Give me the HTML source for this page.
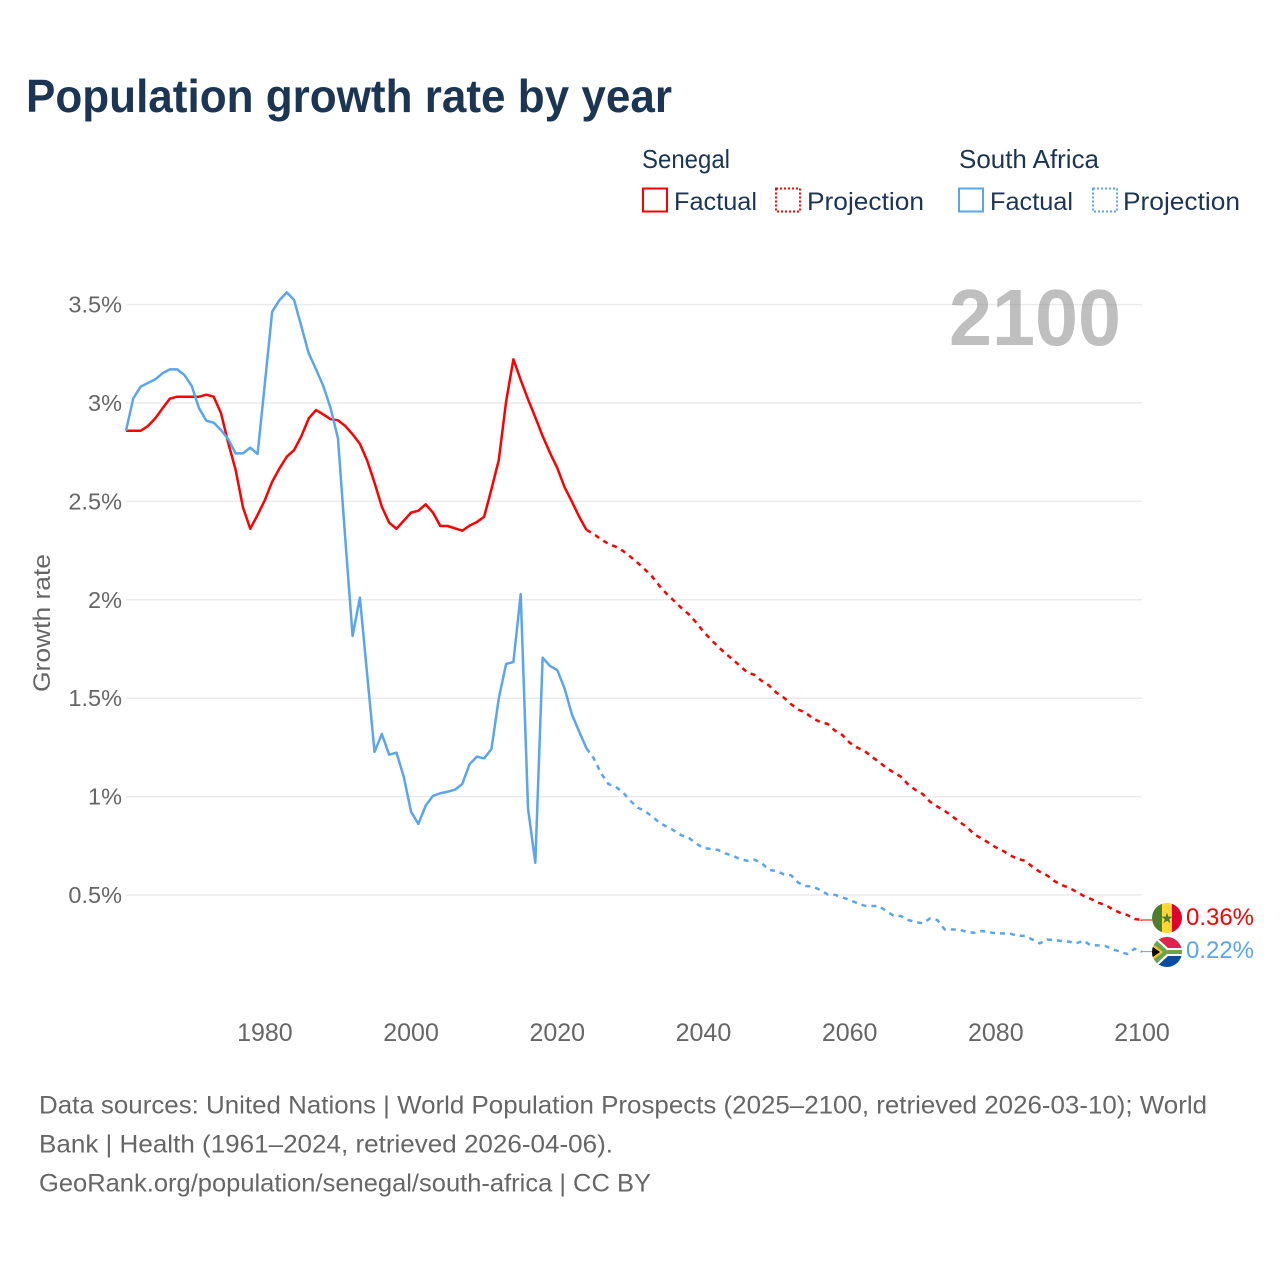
<!DOCTYPE html>
<html lang="en">
<head>
<meta charset="utf-8">
<title>Population growth rate by year</title>
<style>
html,body{margin:0;padding:0;background:#fff;}
svg{display:block;font-family:"Liberation Sans",sans-serif;}
</style>
</head>
<body>
<svg id="chart" xmlns="http://www.w3.org/2000/svg" width="1280" height="1280" viewBox="0 0 1280 1280">
  <defs>
    <clipPath id="clip-sn"><circle cx="1167" cy="918" r="15"/></clipPath>
    <clipPath id="clip-za"><circle cx="1167" cy="952" r="15"/></clipPath>
  </defs>
  <rect width="1280" height="1280" fill="#fff"/>
  <text x="26" y="112" font-size="46" font-weight="700" fill="#1b3553" textLength="646" lengthAdjust="spacingAndGlyphs">Population growth rate by year</text>

  <g fill="#1b3553" font-size="25">
    <text x="642" y="168" font-size="26" textLength="88" lengthAdjust="spacingAndGlyphs">Senegal</text>
    <text x="959" y="168" font-size="26" textLength="140" lengthAdjust="spacingAndGlyphs">South Africa</text>
    <g>
      <rect x="643" y="188.500" width="24" height="23" fill="none" stroke="#ff0000" stroke-width="2"/>
      <text x="674" y="210" textLength="83" lengthAdjust="spacingAndGlyphs">Factual</text>
    </g>
    <g>
      <rect x="776" y="188.500" width="24" height="23" fill="none" stroke="#ff0000" stroke-width="2" stroke-dasharray="2 2"/>
      <text x="807" y="210" textLength="117" lengthAdjust="spacingAndGlyphs">Projection</text>
    </g>
    <g>
      <rect x="959" y="188.500" width="24" height="23" fill="none" stroke="#5aa5ee" stroke-width="2"/>
      <text x="990" y="210" textLength="83" lengthAdjust="spacingAndGlyphs">Factual</text>
    </g>
    <g>
      <rect x="1093" y="188.500" width="24" height="23" fill="none" stroke="#5aa5ee" stroke-width="2" stroke-dasharray="2 2"/>
      <text x="1123" y="210" textLength="117" lengthAdjust="spacingAndGlyphs">Projection</text>
    </g>
  </g>

  <text transform="translate(50,623) rotate(-90)" text-anchor="middle" font-size="24" fill="#666" textLength="138" lengthAdjust="spacingAndGlyphs">Growth rate</text>

  <g id="grid"></g>
  <g id="yticks"></g>
  <g id="xticks"></g>

  <text x="949" y="345" font-size="80" font-weight="700" fill="#808080" fill-opacity="0.5" textLength="172" lengthAdjust="spacingAndGlyphs">2100</text>

  <g id="series"></g>

  <g clip-path="url(#clip-sn)">
    <rect x="1152" y="903" width="10" height="30" fill="#4f7d2e"/>
    <rect x="1162" y="903" width="10" height="30" fill="#fdd835"/>
    <rect x="1172" y="903" width="10" height="30" fill="#e0002d"/>
    <polygon points="1167,912.500 1168.400,916.600 1172.700,916.600 1169.200,919.200 1170.500,923.300 1167,920.800 1163.500,923.300 1164.800,919.200 1161.300,916.600 1165.600,916.600" fill="#4f7d2e"/>
  </g>
  <g clip-path="url(#clip-za)">
    <rect x="1152" y="937" width="30" height="15" fill="#e0234a"/>
    <rect x="1152" y="952" width="30" height="15" fill="#0a4da2"/>
    <polygon points="1150,937 1156,937 1168,948 1182,948 1182,956 1168,956 1156,967 1150,967" fill="#fff"/>
    <polygon points="1150,939 1153,937 1167,950 1182,950 1182,954 1167,954 1153,967 1150,965" fill="#6da34d"/>
    <polygon points="1150,942 1163,952 1150,962" fill="#fdc62f"/>
    <polygon points="1150,945 1160,952 1150,959" fill="#000"/>
  </g>

  <text x="1186" y="925" font-size="24" fill="#ff0000" textLength="68" lengthAdjust="spacingAndGlyphs">0.36%</text>
  <text x="1186" y="958" font-size="24" fill="#5aa5ee" textLength="68" lengthAdjust="spacingAndGlyphs">0.22%</text>

  <g font-size="25" fill="#666">
    <text x="39" y="1113.500" textLength="1168" lengthAdjust="spacingAndGlyphs">Data sources: United Nations | World Population Prospects (2025–2100, retrieved 2026-03-10); World</text>
    <text x="39" y="1152.500" textLength="574" lengthAdjust="spacingAndGlyphs">Bank | Health (1961–2024, retrieved 2026-04-06).</text>
    <text x="39" y="1191.500" textLength="612" lengthAdjust="spacingAndGlyphs">GeoRank.org/population/senegal/south-africa | CC BY</text>
  </g>
</svg>

<script>
const factualStartYear = 1961;
const projectionStartYear = 2024;

const xTickYears = [1980, 2000, 2020, 2040, 2060, 2080, 2100];
const yTickValues = [0.5, 1, 1.5, 2, 2.5, 3, 3.5];
const yTickLabels = ["0.5%", "1%", "1.5%", "2%", "2.5%", "3%", "3.5%"];

const senegalFactual = [
  2.859,2.859,2.859,2.883,2.922,2.973,3.022,3.032,3.032,3.032,
  3.032,3.042,3.032,2.948,2.795,2.660,2.470,2.361,2.431,2.507,
  2.600,2.668,2.727,2.761,2.832,2.922,2.964,2.942,2.918,2.912,
  2.883,2.841,2.792,2.707,2.595,2.473,2.392,2.361,2.402,2.443,
  2.453,2.485,2.443,2.375,2.375,2.363,2.351,2.377,2.395,2.422,
  2.563,2.710,3.007,3.222,3.117,3.019,2.927,2.832,2.747,2.670,
  2.572,2.499,2.422,2.355
];

const senegalProjection = [
  2.355,2.334,2.307,2.284,2.270,2.248,2.219,2.188,2.154,2.117,
  2.070,2.029,1.994,1.958,1.926,1.885,1.838,1.799,1.762,1.728,
  1.697,1.664,1.631,1.618,1.587,1.564,1.528,1.503,1.469,1.442,
  1.426,1.396,1.379,1.369,1.335,1.313,1.274,1.250,1.233,1.203,
  1.177,1.147,1.123,1.101,1.062,1.034,1.013,0.974,0.949,0.928,
  0.901,0.872,0.847,0.810,0.788,0.766,0.742,0.724,0.701,0.683,
  0.674,0.644,0.618,0.600,0.571,0.551,0.537,0.517,0.496,0.480,
  0.461,0.449,0.427,0.410,0.398,0.378,0.373
];

const southAfricaFactual = [
  2.859,3.024,3.083,3.102,3.120,3.151,3.171,3.171,3.142,3.086,
  2.973,2.910,2.900,2.863,2.815,2.744,2.744,2.773,2.741,3.100,
  3.464,3.523,3.562,3.523,3.388,3.252,3.171,3.086,2.973,2.820,
  2.310,1.816,2.011,1.618,1.227,1.318,1.213,1.223,1.101,0.923,
  0.861,0.954,1.004,1.017,1.025,1.035,1.064,1.164,1.203,1.194,
  1.242,1.499,1.674,1.684,2.029,0.940,0.664,1.706,1.664,1.643,
  1.550,1.418,1.330,1.245
];

const southAfricaProjection = [
  1.245,1.194,1.118,1.064,1.050,1.021,0.979,0.944,0.927,0.898,
  0.867,0.847,0.827,0.803,0.790,0.762,0.739,0.734,0.729,0.711,
  0.700,0.683,0.674,0.679,0.661,0.627,0.622,0.605,0.600,0.562,
  0.546,0.542,0.525,0.503,0.501,0.488,0.475,0.459,0.446,0.444,
  0.444,0.419,0.395,0.393,0.373,0.363,0.356,0.381,0.373,0.325,
  0.325,0.324,0.313,0.308,0.317,0.312,0.305,0.305,0.303,0.293,
  0.292,0.274,0.254,0.274,0.271,0.266,0.263,0.254,0.268,0.244,
  0.244,0.241,0.224,0.212,0.200,0.227,0.212
];

const NS = "http://www.w3.org/2000/svg";
function xScale(year) { return 126 + (year - 1961) * (1016 / 139); }
function yScale(value) { return 993.4 - value * 196.8; }

function linePoints(values, startYear) {
  return values.map(function (v, i) {
    return xScale(startYear + i).toFixed(2) + "," + yScale(v).toFixed(2);
  }).join(" ");
}

const gridGroup = document.getElementById("grid");
const yGroup = document.getElementById("yticks");
const xGroup = document.getElementById("xticks");
const seriesGroup = document.getElementById("series");

yTickValues.forEach(function (v, i) {
  const line = document.createElementNS(NS, "line");
  
  
  line.setAttribute("x1", xScale(1961));
  line.setAttribute("x2", xScale(2100));
  line.setAttribute("y1", yScale(v));
  line.setAttribute("y2", yScale(v));
  line.setAttribute("stroke", "#ebebeb");
  line.setAttribute("stroke-width", "1.5");
  gridGroup.appendChild(line);

  const label = document.createElementNS(NS, "text");
  
  
  label.setAttribute("x", 122);
  label.setAttribute("y", yScale(v) + 8);
  label.setAttribute("text-anchor", "end");
  label.setAttribute("font-size", "23.5");
  label.setAttribute("fill", "#666");
  label.textContent = yTickLabels[i];
  yGroup.appendChild(label);
});

xTickYears.forEach(function (year) {
  const label = document.createElementNS(NS, "text");
  
  
  label.setAttribute("x", xScale(year));
  label.setAttribute("y", 1041);
  label.setAttribute("text-anchor", "middle");
  label.setAttribute("font-size", "25");
  label.setAttribute("fill", "#666");
  label.textContent = String(year);
  xGroup.appendChild(label);
});

function drawLine(values, startYear, color, dashed, name) {
  const line = document.createElementNS(NS, "polyline");
  
  
  line.setAttribute("points", linePoints(values, startYear));
  line.setAttribute("fill", "none");
  line.setAttribute("stroke", color);
  line.setAttribute("stroke-width", "2.5");
  line.setAttribute("stroke-linejoin", "round");
  if (dashed) { line.setAttribute("stroke-dasharray", "5 5"); }
  seriesGroup.appendChild(line);
}

function drawConnector(value, color, name) {
  const line = document.createElementNS(NS, "polyline");
  
  
  const y = yScale(value);
  line.setAttribute("points", "1141," + (y + 1).toFixed(2) + " 1141," + y.toFixed(2) + " 1152," + y.toFixed(2));
  line.setAttribute("fill", "none");
  line.setAttribute("stroke", color);
  line.setAttribute("stroke-width", "1");
  seriesGroup.appendChild(line);
}

drawLine(senegalFactual, factualStartYear, "#ff0000", false, "senegal-factual-line");
drawLine(senegalProjection, projectionStartYear, "#ff0000", true, "senegal-projection-line");
drawLine(southAfricaFactual, factualStartYear, "#5aa5ee", false, "south-africa-factual-line");
drawLine(southAfricaProjection, projectionStartYear, "#5aa5ee", true, "south-africa-projection-line");
drawConnector(senegalProjection[senegalProjection.length - 1], "#ff0000", "senegal-label-connector");
drawConnector(southAfricaProjection[southAfricaProjection.length - 1], "#5aa5ee", "south-africa-label-connector");
</script>
</body>
</html>
